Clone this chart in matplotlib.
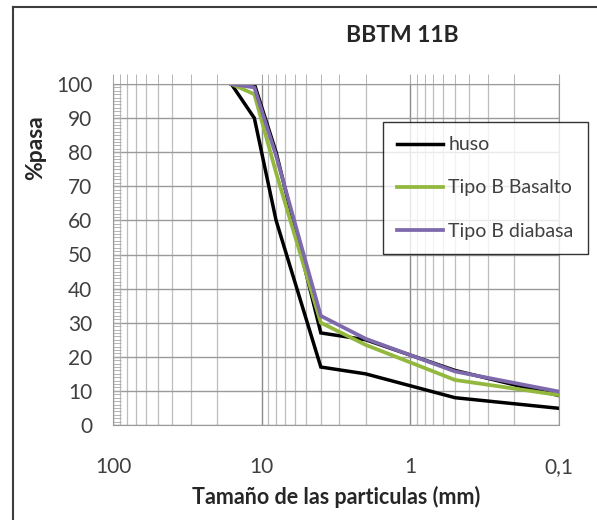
"""curva granulometrica BBTM 11B."""
import matplotlib
matplotlib.use('Agg')
import matplotlib.pyplot as plt
from matplotlib.ticker import FixedLocator, FuncFormatter, MultipleLocator
from matplotlib.lines import Line2D

plt.rcParams['font.family'] = ['Lato', 'DejaVu Sans']

# tamices (mm) y % que pasa
tamiz = [16, 11.2, 8, 4, 2, 0.5, 0.063]
huso_sup = [100, 100, 80, 27, 25, 16, 6.5]
huso_inf = [100, 90, 60, 17, 15, 8, 4]
basalto = [100, 97, 74, 30, 23.5, 13.2, 7.5]
diabasa = [100, 99, 79, 32, 25.3, 15.7, 8.1]

xticks = [100, 10, 1, 0.1]
xticklabels = ['100', '10', '1', '0,1']

fig = plt.figure(figsize=(5.97, 5.20), dpi=100)
ax = fig.add_axes([113/597, 1 - 425/520, 446/597, 341/520])

ax.plot(tamiz, huso_sup, color='black', lw=2.5, label='huso', solid_joinstyle='miter')
ax.plot(tamiz, huso_inf, color='black', lw=2.5, solid_joinstyle='miter')
ax.plot(tamiz, basalto, color='#93b83e', lw=2.7, label='Tipo B Basalto')
ax.plot(tamiz, diabasa, color='#7d69ab', lw=2.7, label='Tipo B diabasa')

ax.set_xscale('log')
ax.set_xlim(100, 0.1)
ax.set_ylim(0, 100)
ax.xaxis.set_major_locator(FixedLocator(xticks))
ax.xaxis.set_major_formatter(FuncFormatter(lambda v, p: xticklabels[xticks.index(v)] if v in xticks else ''))
ax.yaxis.set_major_locator(MultipleLocator(10))
ax.yaxis.set_minor_locator(MultipleLocator(1))

ax.grid(True, which='major', axis='x', color='#8a8a8a', lw=1.0)
ax.grid(True, which='minor', axis='x', color='#bdbdbd', lw=0.9)
ax.grid(True, which='major', axis='y', color='#9a9a9a', lw=1.0)
ax.set_axisbelow(True)
for s in ax.spines.values():
    s.set_color('#9a9a9a')

ax.tick_params(axis='x', which='both', top=True, bottom=False, labeltop=False,
               labelbottom=True, direction='out', length=7, color='#a8a8a8',
               pad=16, labelsize=15, labelcolor='#404040')
ax.tick_params(axis='y', which='both', direction='in', length=6, color='#a8a8a8',
               pad=15, labelsize=15, labelcolor='#404040')

leg = ax.legend(loc='upper left', bbox_to_anchor=(0.605, 0.889), fontsize=14,
                frameon=True, fancybox=False, handlelength=2.36, handletextpad=0.26,
                labelspacing=1.34, borderpad=0.75, borderaxespad=0)
leg.get_frame().set_edgecolor('black')
leg.get_frame().set_linewidth(1.0)
for t in leg.get_texts():
    t.set_color('#404040')

fig.text(402/597, 1 - 35/520, 'BBTM 11B', ha='center', va='center',
         fontsize=16.5, fontweight='bold', color='#262626')
fig.text(36/597, 1 - 148/520, '%pasa', ha='center', va='center', rotation=90,
         fontsize=16.5, fontweight='bold', color='#262626')
fig.text(336/597, 1 - 497/520, 'Tamaño de las particulas (mm)', ha='center',
         va='center', fontsize=15.5, fontweight='bold', color='#262626')

# marco exterior
fig.add_artist(Line2D([13/597, 13/597], [0, 1 - 7/520], transform=fig.transFigure,
                      color='#3c3c3c', lw=1.5))
fig.add_artist(Line2D([13/597, 1], [1 - 7/520, 1 - 7/520], transform=fig.transFigure,
                      color='#3c3c3c', lw=1.5))

fig.savefig('out.png', dpi=100)
